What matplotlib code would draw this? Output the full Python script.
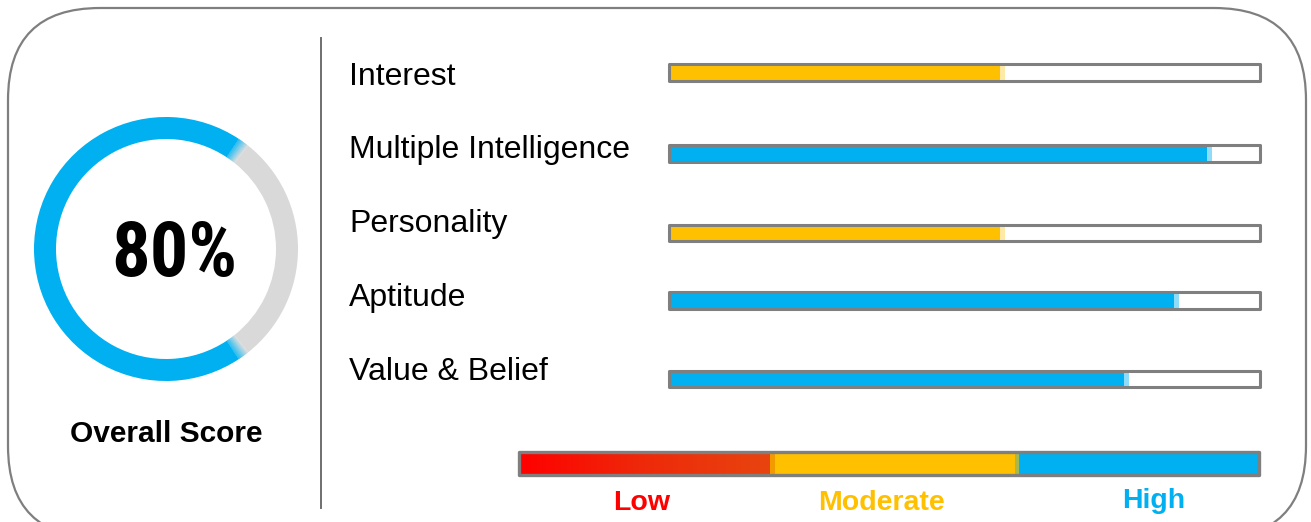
import numpy as np
import matplotlib
matplotlib.use("Agg")
import matplotlib.pyplot as plt
from matplotlib.patches import FancyBboxPatch, Wedge, Rectangle
from matplotlib.colors import to_rgb, LinearSegmentedColormap
from matplotlib import font_manager as fm

# ---------------- data ----------------
overall_score_label = "80%"
ring_filled_fraction = 0.70          # visual fill of the ring as drawn in the reference
categories = ["Interest", "Multiple Intelligence", "Personality", "Aptitude", "Value & Belief"]
scores = [56, 91, 56, 85.5, 77]
level_names = ["Low", "Moderate", "High"]
level_bounds = [0, 34.6, 67.6, 100]
level_colors = ["#ff0000", "#ffc000", "#00b0f0"]

# ---------------- layout (pixels) ----------------
W, H = 1311, 522
BLUE = "#00b0f0"
ORANGE = "#ffc000"
GRAY = "#d9d9d9"
EDGE = "#7f7f7f"
FONT = ["Liberation Sans", "DejaVu Sans"]


def find_font(preferred_files):
    files = {f.fname.split("/")[-1].lower(): f.fname for f in fm.fontManager.ttflist}
    for p in preferred_files:
        if p in files:
            return fm.FontProperties(fname=files[p], size=55)
    return None


narrow_fp = find_font(["robotocondensed-bold.ttf", "liberationsansnarrow-bold.ttf",
                       "pt_sans-narrow-web-bold.ttf", "pragatinarrow-bold.ttf"])

fig = plt.figure(figsize=(W / 100, H / 100), dpi=100)
ax = fig.add_axes([0, 0, 1, 1])
ax.set_xlim(0, W)
ax.set_ylim(H, 0)
ax.axis("off")

# outer rounded frame
ax.add_patch(FancyBboxPatch((8, 8), 1298, 530, boxstyle="round,pad=0,rounding_size=92",
                            fc="white", ec=EDGE, lw=1.6, zorder=0))
# divider
ax.plot([321, 321], [38, 508], color="#6f6f6f", lw=1.4, zorder=1)

# ---------------- donut ----------------
cx, cy, r_out, ring_w = 166, 249, 132, 22
gray_half = 360 * (1 - ring_filled_fraction) / 2
blend = 5.0
ax.add_patch(Wedge((cx, cy), r_out, gray_half + blend / 2, 360 - gray_half - blend / 2,
                   width=ring_w, fc=BLUE, ec="none"))
ax.add_patch(Wedge((cx, cy), r_out, -gray_half + blend / 2, gray_half - blend / 2,
                   width=ring_w, fc=GRAY, ec="none"))
b = np.array(to_rgb(BLUE)); g = np.array(to_rgb(GRAY))
n = 30
for side in (1, -1):
    for i in range(n):
        t0 = gray_half - blend / 2 + blend * i / n
        t1 = gray_half - blend / 2 + blend * (i + 1) / n + 0.05
        frac = (i + 0.5) / n  # 0 -> gray side, 1 -> blue side
        col = g * (1 - frac) + b * frac
        if side == 1:
            ax.add_patch(Wedge((cx, cy), r_out, t0, t1, width=ring_w, fc=col, ec="none"))
        else:
            ax.add_patch(Wedge((cx, cy), r_out, -t1, -t0, width=ring_w, fc=col, ec="none"))

if narrow_fp is not None:
    ax.text(174, 276, overall_score_label, ha="center", va="baseline",
            fontproperties=narrow_fp, color="black")
else:
    ax.text(174, 276, overall_score_label, ha="center", va="baseline", fontsize=49,
            fontweight="bold", family=FONT, color="black")
ax.text(166, 434, "Overall Score", ha="center", va="center", fontsize=21.5,
        fontweight="bold", family=FONT, color="black")

# ---------------- category labels ----------------
label_baselines = [85, 158, 232, 306, 380]
for name, yb in zip(categories, label_baselines):
    ax.text(349, yb, name, ha="left", va="baseline", fontsize=23, family=FONT, color="black")

# ---------------- score bars ----------------
bar_rows = [72.5, 153.5, 233, 300.5, 379]
bar_h = 16.5
axb = fig.add_axes([669 / W, 0, 591 / W, 1])
axb.set_xlim(0, 100)
axb.set_ylim(H, 0)
axb.axis("off")


def level_color(v):
    for lo, hi, c in zip(level_bounds[:-1], level_bounds[1:], level_colors):
        if lo <= v < hi or (v == 100 and hi == 100):
            return c
    return level_colors[-1]


bar_cols = [level_color(s) for s in scores]
light = {ORANGE: "#ffe9a6", BLUE: "#8fdcf8", "#ff0000": "#ff9a9a"}
axb.barh(bar_rows, scores, height=bar_h, color=bar_cols, zorder=2)
axb.barh(bar_rows, [0.8] * len(scores), left=scores, height=bar_h,
         color=[light[c] for c in bar_cols], zorder=2)
outl = axb.barh(bar_rows, [100] * len(scores), height=bar_h, fill=False,
                edgecolor=EDGE, lw=2.2, zorder=3)
for p in outl:
    p.set_joinstyle("round")
    p.set_clip_on(False)

# ---------------- scale bar ----------------
axs = fig.add_axes([519 / W, 0, 740 / W, 1])
axs.set_xlim(0, 100)
axs.set_ylim(H, 0)
axs.axis("off")
sy0, sy1 = 452, 475
red_cmap = LinearSegmentedColormap.from_list("red", ["#ff0000", "#ee2a0a", "#e8440f"])
grad = np.linspace(0, 1, 256).reshape(1, -1)
axs.imshow(grad, cmap=red_cmap, extent=(level_bounds[0], level_bounds[1] - 0.7, sy1, sy0),
           aspect="auto", zorder=1, interpolation="bilinear")
axs.add_patch(Rectangle((level_bounds[1] - 0.7, sy0), 0.8, sy1 - sy0, fc="#f39a00", ec="none", zorder=1))
axs.add_patch(Rectangle((level_bounds[1], sy0), level_bounds[2] - level_bounds[1], sy1 - sy0,
                        fc=level_colors[1], ec="none", zorder=1))
axs.add_patch(Rectangle((level_bounds[2] - 0.6, sy0), 0.7, sy1 - sy0, fc="#a8b84c", ec="none", zorder=1))
axs.add_patch(Rectangle((level_bounds[2], sy0), level_bounds[3] - level_bounds[2], sy1 - sy0,
                        fc=level_colors[2], ec="none", zorder=1))
fr = Rectangle((0, sy0), 100, sy1 - sy0, fill=False, ec=EDGE, lw=2.4, zorder=3, clip_on=False)
fr.set_joinstyle("round")
axs.add_patch(fr)

label_x = [16.6, 49.0, 85.8]
label_base = [510, 510, 508]
for name, x, y, c in zip(level_names, label_x, label_base, level_colors):
    axs.text(x, y, name, ha="center", va="baseline", fontsize=20.5, fontweight="bold",
             family=FONT, color=c)

fig.savefig("out.png", dpi=100)
